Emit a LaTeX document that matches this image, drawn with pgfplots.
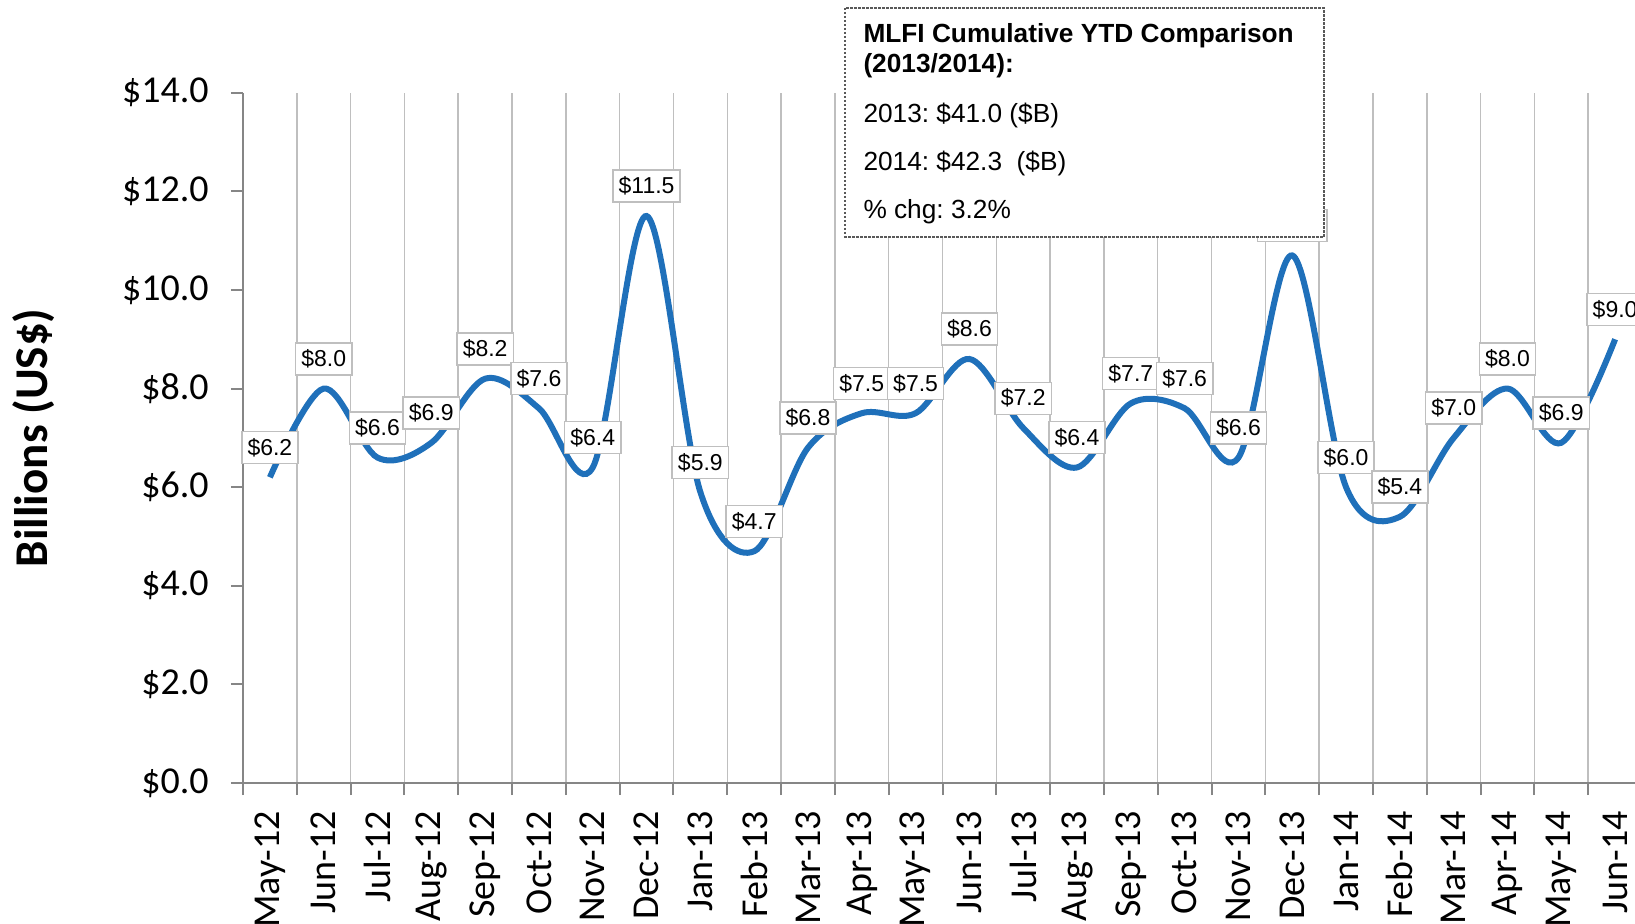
\documentclass[border=0pt]{standalone}
\usepackage{pgfplots}
\pgfplotsset{compat=1.18}
\usepackage{fontspec}
\setmainfont{Carlito}
\newfontfamily\arial{Liberation Sans}
\definecolor{lineblue}{RGB}{31,112,186}
\definecolor{axgray}{RGB}{134,134,134}
\definecolor{gridgray}{RGB}{191,191,191}
\frenchspacing
\begin{document}
\begin{tikzpicture}
\begin{axis}[
  scale only axis,
  width=559.6pt, height=276.1pt,
  xmin=-0.5, xmax=25.5, ymin=0, ymax=14,
  axis x line*=bottom, axis y line*=left,
  axis line style={axgray, line width=0.8pt},
  tick align=outside,
  major tick length=4.8pt,
  tick style={axgray, line width=0.8pt},
  xtick={-0.5,0.5,...,25.5},
  xticklabels={May-12,Jun-12,Jul-12,Aug-12,Sep-12,Oct-12,Nov-12,Dec-12,Jan-13,Feb-13,Mar-13,Apr-13,May-13,Jun-13,Jul-13,Aug-13,Sep-13,Oct-13,Nov-13,Dec-13,Jan-14,Feb-14,Mar-14,Apr-14,May-14,Jun-14,{}},
  xticklabel style={xshift=10.76pt, yshift=-2.9pt, rotate=90, anchor=east},
  xmajorgrids,
  major grid style={gridgray, line width=0.6pt},
  ytick={0,2,...,14},
  yticklabel={\$\pgfmathprintnumber{\tick}},
  yticklabel style={xshift=-5.4pt, /pgf/number format/.cd, fixed, fixed zerofill, precision=1, assume math mode=true},
  tick label style={font=\fontsize{15.2pt}{17pt}\selectfont},
  ylabel={\bfseries Billions (US\$)},
  ylabel style={font=\fontsize{18.8pt}{21pt}\selectfont, at={(axis description cs:-0.150,0.5)}, anchor=center},
  nodes near coords={\arial\$\pgfmathprintnumber[fixed,fixed zerofill,precision=1,assume math mode=true]{\pgfplotspointmeta}},
  every node near coord/.append style={anchor=center, yshift=11.9pt, draw=gridgray, fill=white, text=black,
     font=\fontsize{9.2pt}{11pt}\selectfont, inner xsep=2.3pt, inner ysep=0pt, minimum height=12.8pt, line width=0.6pt},
  clip=false,
]
\addplot[lineblue, line width=2.4pt, smooth, tension=0.55] table {
x y
0 6.2
1 8.0
2 6.6
3 6.9
4 8.2
5 7.6
6 6.4
7 11.5
8 5.9
9 4.7
10 6.8
11 7.5
12 7.5
13 8.6
14 7.2
15 6.4
16 7.7
17 7.6
18 6.6
19 10.7
20 6.0
21 5.4
22 7.0
23 8.0
24 6.9
25 9.0
};
\coordinate (O) at (axis cs:-0.5,0);
\end{axis}
\coordinate (TL) at ([xshift=-97.2pt,yshift=313.2pt]O);
\begin{scope}[shift={(TL)}, x=0.4pt, y=-0.4pt]
\draw[dash pattern=on 1pt off 0.6pt, gray!70!black, fill=white, line width=0.6pt] (845,8) rectangle (1324,237);
\node[anchor=mid west, inner sep=0pt, font=\fontsize{10.5pt}{12pt}\selectfont\arial\bfseries] at (863,37) {MLFI Cumulative YTD Comparison};
\node[anchor=mid west, inner sep=0pt, font=\fontsize{10.5pt}{12pt}\selectfont\arial\bfseries] at (863,67) {(2013/2014):};
\node[anchor=mid west, inner sep=0pt, font=\fontsize{10.5pt}{12pt}\selectfont\arial] at (863,117) {2013: \$41.0 (\$B)};
\node[anchor=mid west, inner sep=0pt, font=\fontsize{10.5pt}{12pt}\selectfont\arial] at (863,165) {2014: \$42.3~~(\$B)};
\node[anchor=mid west, inner sep=0pt, font=\fontsize{10.5pt}{12pt}\selectfont\arial] at (863,213) {\% chg: 3.2\%};
\pgfresetboundingbox
\path[use as bounding box] (0,0) rectangle (1635,924);
\end{scope}
\end{tikzpicture}
\end{document}
